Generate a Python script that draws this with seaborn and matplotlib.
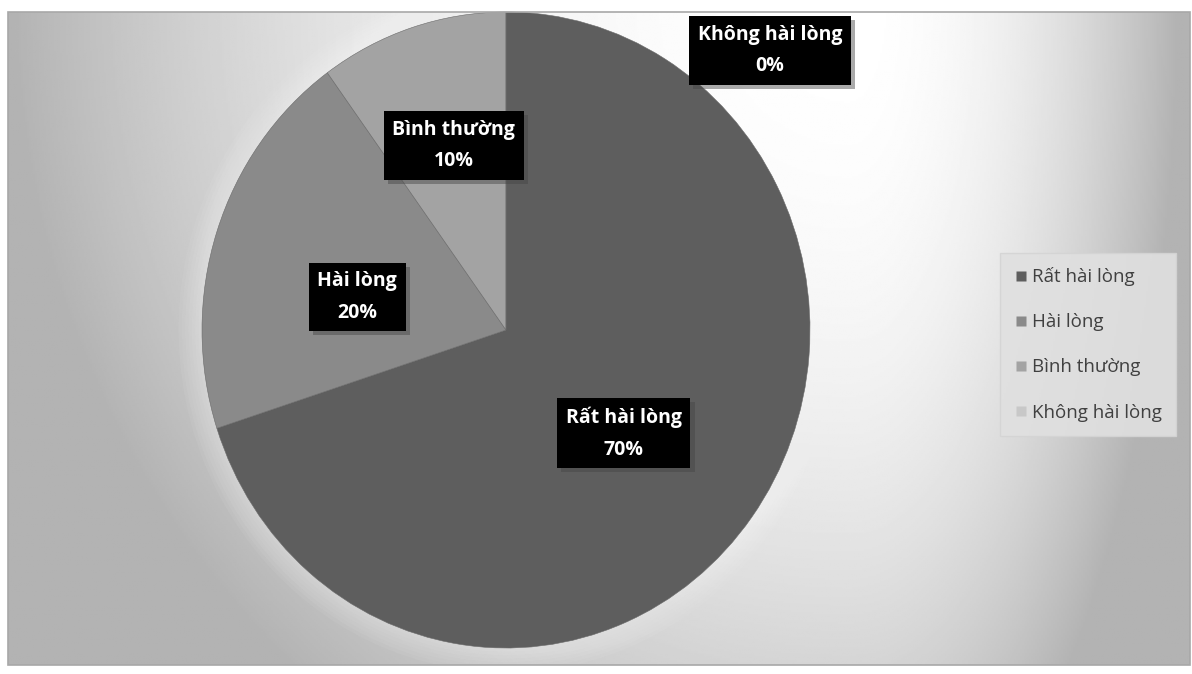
import matplotlib
matplotlib.use("Agg")
import matplotlib.pyplot as plt
import matplotlib.patheffects as pe
import numpy as np
import seaborn as sns
from matplotlib.lines import Line2D
from matplotlib.patches import Ellipse, Rectangle

# Dữ liệu mức độ hài lòng
nhan = ["Rất hài lòng", "Hài lòng", "Bình thường", "Không hài lòng"]
ty_le = [70, 20, 10, 0]
mau = ["#5e5e5e", "#8a8a8a", "#a3a3a3", "#c8c8c8"]

sns.set_theme(style="white")
plt.rcParams["font.family"] = ["Open Sans", "DejaVu Sans"]

W, H = 1192, 674
fig = plt.figure(figsize=(W / 100, H / 100), dpi=100)
fig.patch.set_facecolor("white")

# Nền gradient của vùng biểu đồ
x0, y0, x1, y1 = 8, 12, 1190, 665
bg = fig.add_axes([x0 / W, 1 - y1 / H, (x1 - x0) / W, (y1 - y0) / H])
xs = np.linspace(x0, x1, 600)
ys = np.linspace(y0, y1, 340)
gx, gy = np.meshgrid(xs, ys)
dx = gx - 850
u = np.where(dx < 0, dx / 842, dx / 330)
v = gy / 900
sang = 1 - 0.30 * np.clip(u**2 + v**2, 0, 1)
bg.imshow(sang, cmap="gray", vmin=0, vmax=1, aspect="auto",
          extent=(0, 1, 0, 1), origin="upper")
bg.set_xlim(0, 1)
bg.set_ylim(0, 1)
bg.axis("off")
fig.patches.append(Rectangle((x0 / W, 1 - y1 / H), (x1 - x0) / W, (y1 - y0) / H,
                             transform=fig.transFigure, fill=False,
                             edgecolor="#a8a8a8", lw=1.2, zorder=5))

# Biểu đồ tròn
cx, cy, rx, ry = 506, 330, 304, 318
ax = fig.add_axes([(cx - rx) / W, 1 - (cy + ry) / H, 2 * rx / W, 2 * ry / H])
ax.patch.set_alpha(0)

for k in range(7):
    s = 1.0 + 0.011 * (k + 1)
    ax.add_patch(Ellipse((0, 0), 2 * s, 2 * s, color="white", alpha=0.05,
                         lw=0, zorder=0, clip_on=False))

wedges, _ = ax.pie(ty_le, colors=mau, startangle=90, counterclock=False,
                   radius=1, wedgeprops=dict(edgecolor="#6a6a6a", linewidth=0.4))
for w in wedges:
    w.set_zorder(2)
    w.set_clip_on(False)
ax.set_aspect("auto")
ax.set_xlim(-1, 1)
ax.set_ylim(-1, 1)
ax.axis("off")

# Nhãn dữ liệu (vị trí theo góc giữa của từng miếng)
he_so_r = [0.505, 0.5, 0.605]
lech_goc = [-4, 6, -1.5]
bong = [pe.SimplePatchShadow(offset=(3, -3), shadow_rgbFace="#444444", alpha=0.45),
        pe.Normal()]
for i, (w, ten, gt) in enumerate(zip(wedges, nhan, ty_le)):
    if gt == 0:
        tx, ty = 0.868, 0.88
    else:
        goc = np.deg2rad((w.theta1 + w.theta2) / 2 + lech_goc[i])
        tx, ty = he_so_r[i] * np.cos(goc), he_so_r[i] * np.sin(goc)
    t = ax.text(tx, ty, f"{ten}\n{gt}%", ha="center", va="center",
                fontsize=14, fontweight="bold", color="white", linespacing=1.75,
                bbox=dict(boxstyle="square,pad=0.45", fc="black", ec="none"),
                zorder=4, clip_on=False)
    t.get_bbox_patch().set_path_effects(bong)

# Chú giải
tay_cam = [Line2D([], [], marker="s", linestyle="none", markersize=6.5,
                  markerfacecolor=c, markeredgecolor="none") for c in mau]
lg = fig.legend(tay_cam, nhan, loc="upper left",
                bbox_to_anchor=(1000 / W, 1 - 253 / H), borderaxespad=0,
                frameon=True, fancybox=False, fontsize=13.5,
                labelspacing=1.45, handlelength=0.7, handletextpad=0.25,
                borderpad=0.75, labelcolor="#404040")
lg.get_frame().set_facecolor("#e0e0e0")
lg.get_frame().set_edgecolor("#d4d4d4")
lg.get_frame().set_alpha(0.9)

fig.savefig("out.png", dpi=100)
